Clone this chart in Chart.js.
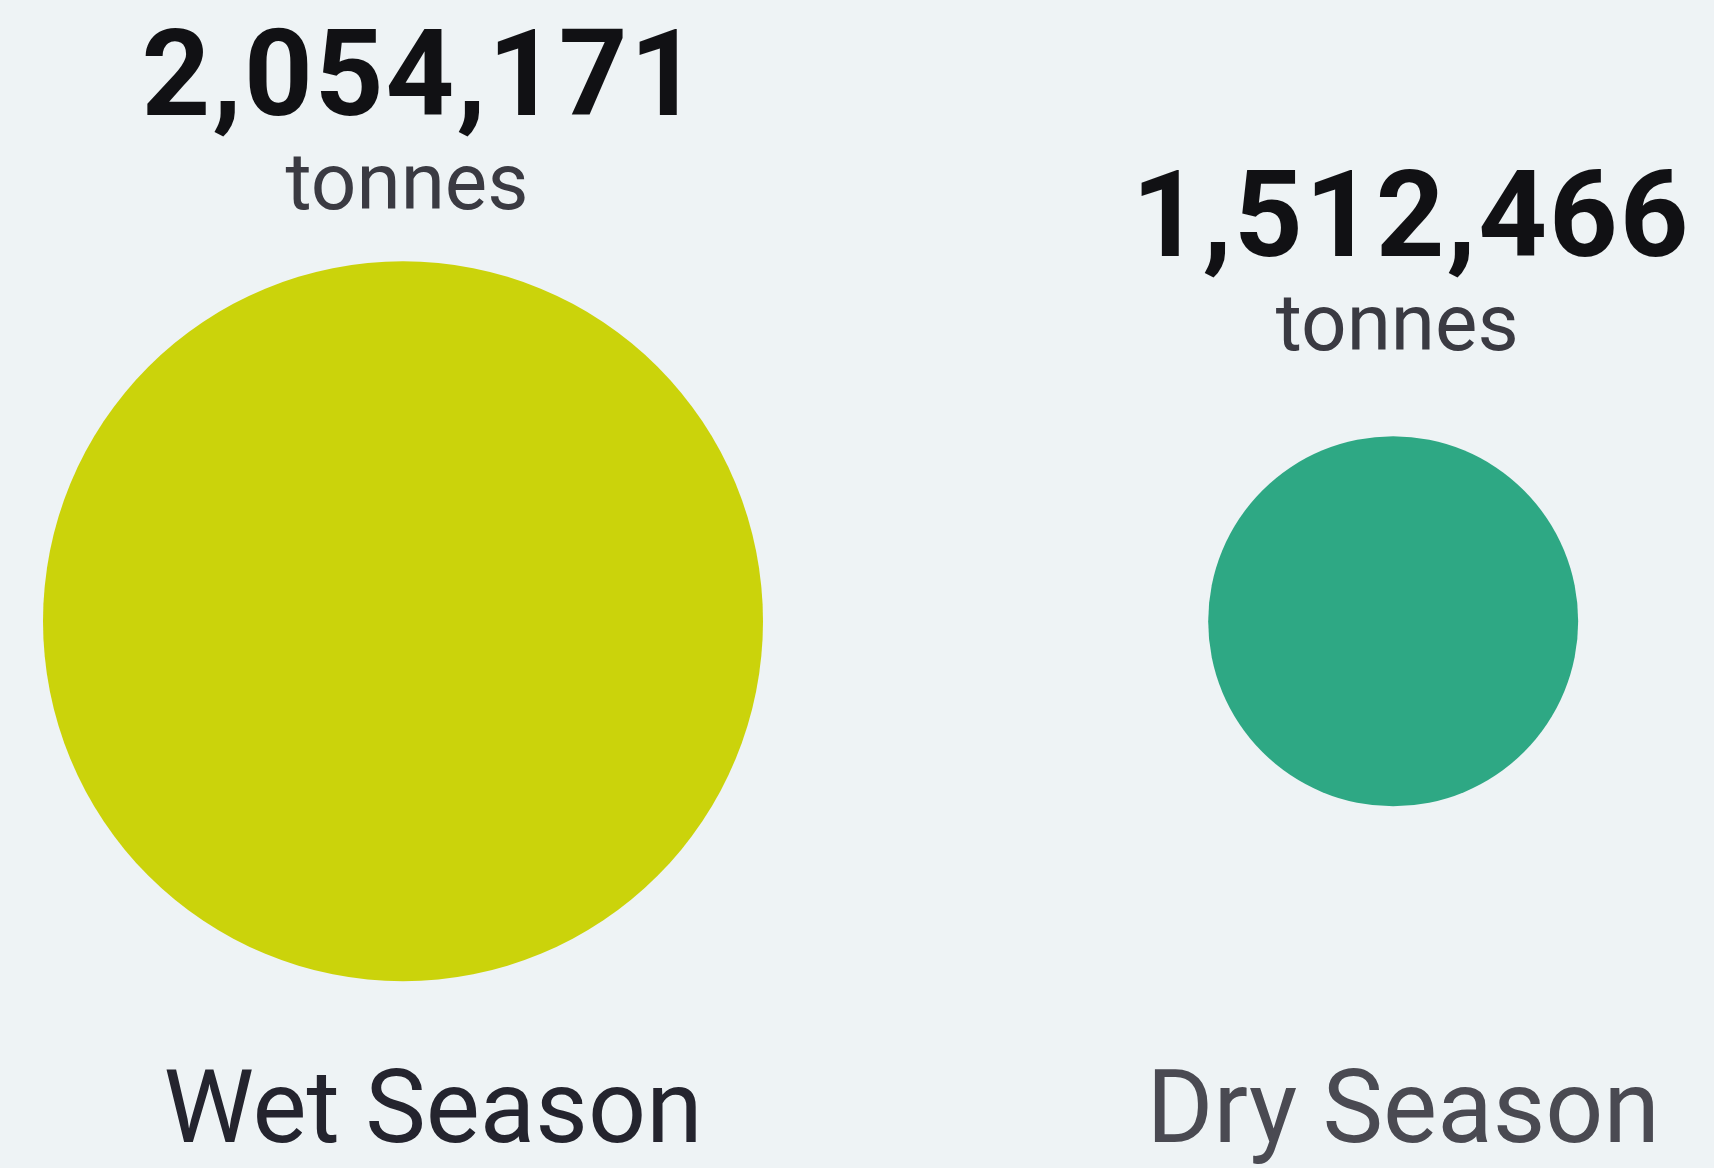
<!DOCTYPE html>
<html>
<head>
<meta charset="utf-8">
<title>Wet vs Dry Season</title>
<script src="https://cdn.jsdelivr.net/npm/chart.js@4/dist/chart.umd.min.js"></script>
<style>
  html, body { margin: 0; padding: 0; background: #eef3f5; overflow: hidden; }
  #wrap { width: 1714px; height: 1168px; position: relative; }
</style>
</head>
<body>
<div id="wrap"><canvas id="seasonChart" width="1714" height="1168"></canvas></div>
<script>
// 数据
const seasons = ['Wet Season', 'Dry Season'];
const tonnes = [2054171, 1512466];
const unitLabel = 'tonnes';

// 样式
const bubbleColors = ['#cbd30b', '#2ea884'];
const bubbleRadius = [360, 185];
const labelGap = [52, 86];     // 圆顶部到 "tonnes" 基线的距离
const seasonDx = [30, 10];     // 底部季节标签的水平偏移
const seasonColors = ['#24242e', '#4a4a52'];

// 背景
const bgPlugin = {
    id: 'bg',
    beforeDraw(chart) {
        const ctx = chart.ctx;
        ctx.save();
        ctx.fillStyle = '#eef3f5';
        ctx.fillRect(0, 0, chart.width, chart.height);
        ctx.restore();
    }
};

// 数值和季节标签
const labelPlugin = {
    id: 'labels',
    afterDatasetsDraw(chart) {
        const ctx = chart.ctx;
        const meta = chart.getDatasetMeta(0);
        ctx.save();
        ctx.textAlign = 'center';
        ctx.textBaseline = 'alphabetic';
        meta.data.forEach((pt, i) => {
            const top = pt.y - bubbleRadius[i];
            const unitY = top - labelGap[i];

            ctx.fillStyle = '#3a3a42';
            ctx.font = '400 80px Roboto';
            ctx.fillText(unitLabel, pt.x + 4, unitY);

            ctx.fillStyle = '#111114';
            ctx.font = '700 120px Roboto';
            ctx.letterSpacing = '2px';
            ctx.fillText(tonnes[i].toLocaleString('en-US'), pt.x + 18, unitY - 94);
            ctx.letterSpacing = '0px';

            ctx.fillStyle = seasonColors[i];
            ctx.font = '400 102px Roboto';
            ctx.fillText(seasons[i], pt.x + seasonDx[i], chart.chartArea.bottom - 26);
        });
        ctx.restore();
    }
};

function initChart() {
    const ctx = document.getElementById('seasonChart').getContext('2d');
    new Chart(ctx, {
        type: 'scatter',
        data: {
            datasets: [{
                label: unitLabel,
                data: seasons.map((s, i) => ({ x: i, y: 0 })),
                backgroundColor: bubbleColors,
                borderWidth: 0,
                pointRadius: bubbleRadius,
                pointHoverRadius: bubbleRadius,
                clip: false
            }]
        },
        options: {
            responsive: false,
            maintainAspectRatio: false,
            animation: false,
            layout: { padding: 0, autoPadding: false },
            plugins: {
                legend: { display: false },
                tooltip: { enabled: false }
            },
            scales: {
                x: { type: 'linear', display: false, min: -0.407, max: 1.324 },
                y: { type: 'linear', display: false, min: -0.88, max: 1.0 }
            }
        },
        plugins: [bgPlugin, labelPlugin]
    });
}

document.addEventListener('DOMContentLoaded', initChart);
</script>
</body>
</html>
